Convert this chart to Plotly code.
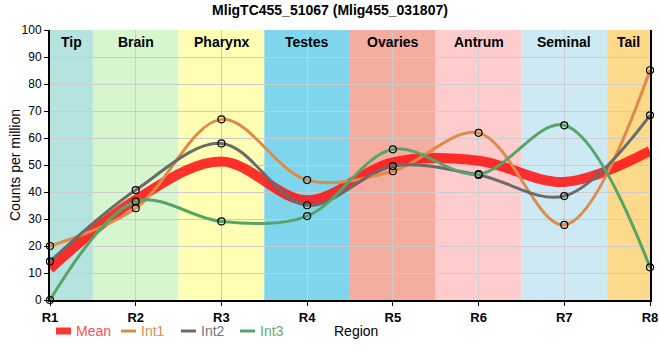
import plotly.graph_objects as go

regions = ["R1", "R2", "R3", "R4", "R5", "R6", "R7", "R8"]
tissues = ["Tip", "Brain", "Pharynx", "Testes", "Ovaries", "Antrum", "Seminal", "Tail"]
tissue_colors = ["#b5e3df", "#d7f6ce", "#ffffb4", "#7fd6ec", "#f5ada0", "#fecccc", "#cdeaf4", "#fdd98c"]

mean_vals = [11.6, 37.1, 51.3, 36.9, 51.0, 51.6, 43.7, 55.2]
int1 = [20.0, 34.0, 66.9, 44.4, 47.7, 61.9, 27.8, 85.1]
int2 = [14.3, 40.7, 58.0, 35.1, 49.6, 46.3, 38.5, 68.4]
int3 = [0.0, 36.5, 29.1, 31.1, 55.8, 46.6, 64.7, 12.1]

series = [
    ("Int1", int1, "#de8a48"),
    ("Int2", int2, "#6a6a6a"),
    ("Int3", int3, "#58a468"),
]
mean_color = "rgba(255,20,20,0.88)"

FONT = "Liberation Sans Narrow, Arial Narrow, Liberation Sans, Arial, sans-serif"

W, H = 660, 360
L, R, T, B = 50, 10, 30, 60
PW, PH = W - L - R, H - T - B


def px_x(p):
    return (p - L) / PW


def px_y(p):
    return (H - B - p) / PH


fig = go.Figure()

fig.add_trace(go.Scatter(
    x=regions, y=mean_vals, mode="lines", line_shape="spline",
    line=dict(color=mean_color, width=10), name="Mean", showlegend=False,
))
for name, vals, col in series:
    fig.add_trace(go.Scatter(
        x=regions, y=vals, mode="lines+markers", line_shape="spline",
        line=dict(color=col, width=3),
        marker=dict(symbol="circle-open", size=7, color="black", line=dict(width=1.2, color="black")),
        name=name, showlegend=False, cliponaxis=False,
    ))

shapes = []
annotations = []
n = len(regions)
for i, (t, c) in enumerate(zip(tissues, tissue_colors)):
    x0 = max(i - 0.5, 0)
    x1 = min(i + 0.5, n - 1)
    shapes.append(dict(type="rect", xref="x", yref="y", x0=x0, x1=x1, y0=0, y1=100,
                       fillcolor=c, line=dict(width=0), layer="below"))
    annotations.append(dict(x=(x0 + x1) / 2, y=px_y(42), xref="x", yref="paper", text=f"<b>{t}</b>",
                            showarrow=False, font=dict(size=14, color="black", family=FONT),
                            xanchor="center", yanchor="middle"))

# manual legend
legend_items = [
    ("Mean", "#ff3535", "#ff4d4d", 56, 71, 74, 7),
    ("Int1", "#de8a48", "#e0904f", 121, 136, 139, 3),
    ("Int2", "#6a6a6a", "#777777", 181, 196, 199, 3),
    ("Int3", "#58a468", "#62ad72", 240, 255, 258, 3),
]
ly = 331
for name, lc, tc, sx0, sx1, tx, lw in legend_items:
    shapes.append(dict(type="line", xref="paper", yref="paper", x0=px_x(sx0), x1=px_x(sx1),
                       y0=px_y(ly), y1=px_y(ly), line=dict(color=lc, width=lw)))
    annotations.append(dict(x=px_x(tx), y=px_y(ly), xref="paper", yref="paper", text=name,
                            showarrow=False, xanchor="left", yanchor="middle",
                            font=dict(size=14, color=tc, family=FONT)))
annotations.append(dict(x=px_x(332), y=px_y(331), xref="paper", yref="paper", text="Region",
                        showarrow=False, xanchor="left", yanchor="middle",
                        font=dict(size=14, color="black", family=FONT)))
annotations.append(dict(x=px_x(15), y=0.5, xref="paper", yref="paper", text="Counts per million",
                        showarrow=False, xanchor="center", yanchor="middle", textangle=-90,
                        font=dict(size=14, color="black", family=FONT)))

fig.update_layout(
    width=W, height=H,
    margin=dict(l=L, r=R, t=T, b=B),
    paper_bgcolor="white", plot_bgcolor="white",
    font=dict(family=FONT, size=12, color="black"),
    title=dict(text="<b>MligTC455_51067 (Mlig455_031807)</b>", x=0.5, xanchor="center",
               y=1 - 10 / H, yanchor="middle", font=dict(size=14, family=FONT)),
    shapes=shapes, annotations=annotations,
    showlegend=False,
)
fig.update_xaxes(
    type="category", range=[0, n - 1], showgrid=True, gridcolor="#cccccc", gridwidth=1,
    showline=True, linecolor="black", linewidth=2,
    tickfont=dict(size=13, family=FONT), ticks="outside", ticklen=4, tickcolor="black",
    tickprefix="<b>", ticksuffix="</b>",
    automargin=False, layer="above traces",
)
fig.update_yaxes(
    range=[0, 100], dtick=10, showgrid=True, gridcolor="#cccccc", gridwidth=1,
    showline=True, linecolor="black", linewidth=2, mirror=True,
    ticks="outside", ticklen=4, tickcolor="black", zeroline=False,
    tickfont=dict(size=12, family=FONT), automargin=False,
)

fig.write_html("out.html", config={"displayModeBar": False},
               post_script="document.body.style.margin='0px';")
